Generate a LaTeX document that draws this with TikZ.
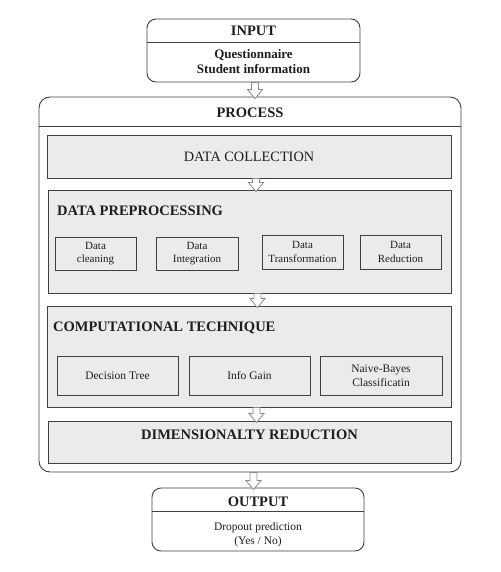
\documentclass[tikz,border=0pt]{standalone}
\usepackage{fontspec}
\setmainfont{Liberation Serif}
\usetikzlibrary{calc}

\definecolor{boxline}{HTML}{404040}
\definecolor{boxfill}{HTML}{EBEBEB}
\definecolor{arrowline}{HTML}{8A8A8A}
\definecolor{inktext}{HTML}{1E1E1E}

\tikzset{
  iobox/.style={draw=boxline, line width=0.9pt, rounded corners=9pt, fill=white, inner sep=0pt},
  stage/.style={draw=boxline, line width=0.9pt, fill=boxfill, inner sep=0pt},
  subbox/.style={draw=boxline, line width=0.9pt, fill=boxfill, inner sep=0pt, align=center,
    text=inktext, font=\fontsize{11}{13.6}\selectfont},
  heading/.style={font=\fontsize{14.5}{17}\selectfont\bfseries, text=inktext, inner sep=0pt},
  divider/.style={draw=boxline, line width=0.9pt},
  hollowarrow/.style={draw=arrowline, fill=white, line width=0.8pt, line join=miter},
}

% hollow block arrow from the bottom of one box into the top of the next
\newcommand{\blockarrow}[3][0pt]{%
  \path ([xshift=#1]#2.south) coordinate (ba1) (ba1 |- #3.north) coordinate (ba2);
  \draw[hollowarrow] ($(ba1)+(-3.5,0)$) -- ($(ba2)+(-3.5,-7)$) -- ($(ba2)+(-7.5,-7)$)
     -- ($(ba2)+(0,2)$) -- ($(ba2)+(7.5,-7)$) -- ($(ba2)+(3.5,-7)$) -- ($(ba1)+(3.5,0)$) -- cycle;}

\begin{document}
\begin{tikzpicture}[x=1pt,y=-1pt]
\useasboundingbox (0,0) rectangle (500,572);

 \draw (253.5,50.5) node[iobox, minimum width=213pt, minimum height=63pt] (input) {};
 \draw[divider] (input.west |- 0,42) -- (input.east |- 0,42);
 \draw (253.5,30.5) node[heading] (inputtitle) {INPUT};
 \draw (253.5,61.5) node[align=center, text=inktext, inner sep=0pt,
   font=\fontsize{13}{15.7}\selectfont\bfseries] (inputtext) {Questionnaire\\Student information};

 \draw (250,284.5) node[iobox, rounded corners=11pt, minimum width=422pt, minimum height=375pt] (process) {};
 \draw[divider] (process.west |- 0,126) -- (process.east |- 0,126);
 \draw (250,113) node[heading] (processtitle) {PROCESS};

 \draw (249,156.5) node[stage, minimum width=404pt, minimum height=43pt, text=inktext,
   font=\fontsize{14.3}{17}\selectfont] (collect) {DATA COLLECTION};

 \draw (249.5,241.5) node[stage, minimum width=403pt, minimum height=103pt] (prep) {};
 \draw (57,211) node[heading, anchor=west] (preptitle) {DATA PREPROCESSING};
   \draw (95.5,253.5) node[subbox, minimum width=81pt, minimum height=33pt] (cleaning) {Data\\cleaning};
   \draw (197,253.5) node[subbox, minimum width=82pt, minimum height=33pt] (integration) {Data\\Integration};
   \draw (302.5,252) node[subbox, minimum width=81pt, minimum height=34pt] (transformation) {Data\\Transformation};
   \draw (400.5,252) node[subbox, minimum width=81pt, minimum height=34pt] (reduction) {Data\\Reduction};

 \draw (249,356.5) node[stage, minimum width=404pt, minimum height=101pt] (comp) {};
 \draw (53,328) node[heading, anchor=west] (comptitle) {COMPUTATIONAL TECHNIQUE};
   \draw (117.5,375.5) node[subbox, font=\fontsize{11.5}{13.6}\selectfont, minimum width=121pt, minimum height=39pt] (tree) {Decision Tree};
   \draw (249.5,375.5) node[subbox, font=\fontsize{11.5}{13.6}\selectfont, minimum width=121pt, minimum height=39pt] (gain) {Info Gain};
   \draw (381,375.5) node[subbox, font=\fontsize{11.5}{13.6}\selectfont, minimum width=122pt, minimum height=39pt] (bayes) {Naive-Bayes\\Classificatin};

 \draw (249.5,442) node[stage, minimum width=403pt, minimum height=42pt] (dim) {};
 \draw (249.5,435) node[heading] (dimtitle) {DIMENSIONALTY REDUCTION};

 \draw (258,519.5) node[iobox, minimum width=212pt, minimum height=63pt] (output) {};
 \draw[divider] (output.west |- 0,511) -- (output.east |- 0,511);
 \draw (258,502) node[heading] (outputtitle) {OUTPUT};
 \draw (258,534.5) node[align=center, text=inktext, inner sep=0pt,
   font=\fontsize{11.5}{14.5}\selectfont] (outputtext) {Dropout prediction\\(Yes / No)};

 \blockarrow[1.5pt]{input}{process}
 \blockarrow[7pt]{collect}{prep}
 \blockarrow[8pt]{prep}{comp}
 \blockarrow[7.5pt]{comp}{dim}
 \blockarrow[3.5pt]{process}{output}

\end{tikzpicture}
\end{document}
